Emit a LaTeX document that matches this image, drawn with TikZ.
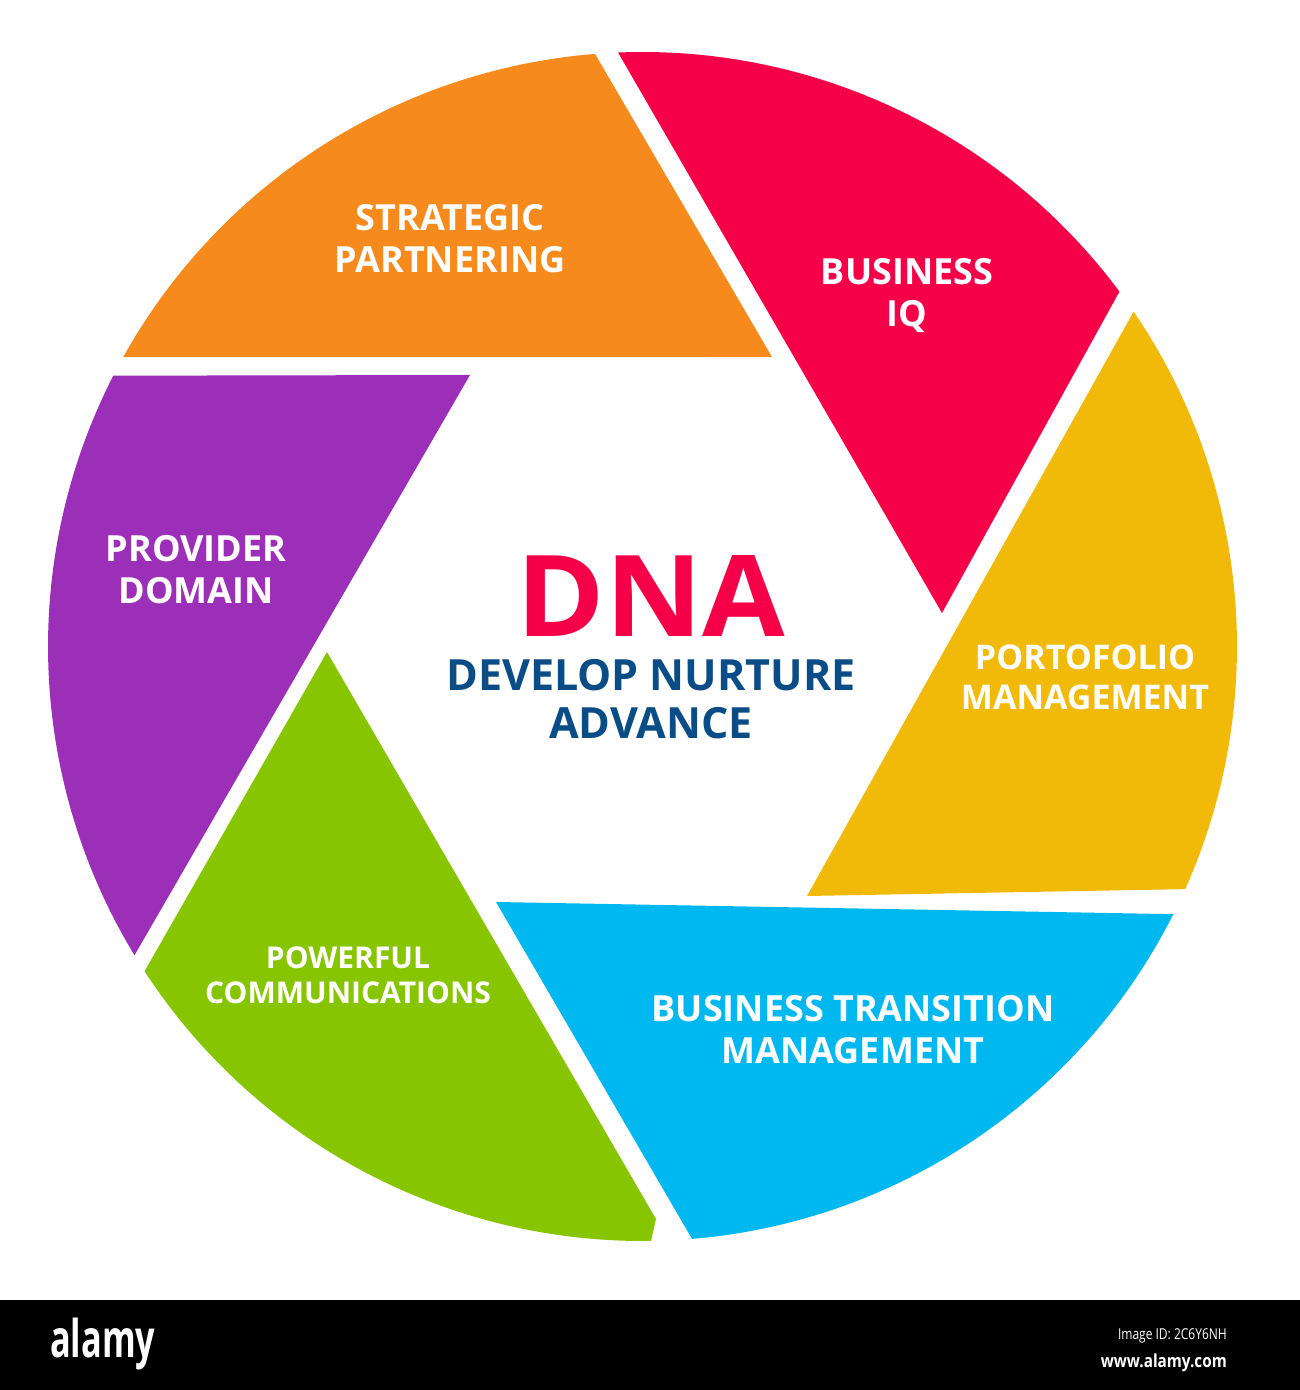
\documentclass[tikz,border=0pt]{standalone}
\usepackage{fontspec}
\setmainfont{Open Sans}
\usetikzlibrary{calc}

\definecolor{orangeblade}{RGB}{247,138,28}
\definecolor{redblade}{RGB}{245,0,72}
\definecolor{yellowblade}{RGB}{242,186,8}
\definecolor{blueblade}{RGB}{0,184,240}
\definecolor{greenblade}{RGB}{135,197,0}
\definecolor{purpleblade}{RGB}{155,47,183}
\definecolor{dnablue}{RGB}{10,76,134}

\tikzset{
	bladetext/.style={text=white, align=center, inner sep=0pt, font=\bfseries\fontsize{36}{42}\selectfont},
	bartext/.style={text=white, inner sep=0pt},
}
\newcommand{\rr}{594.5}

\begin{document}
\begin{tikzpicture}[x=1pt,y=1pt]
		\useasboundingbox (0,0) rectangle (1300,1390);
		\fill[white] (0,0) rectangle (1300,1390);
		\coordinate (c) at (642.5,743.5);
		% the six blades
		\fill[orangeblade] (772,1033) -- ($(c)+(94.58:\rr)$) arc[start angle=94.58, end angle=150.87, radius=\rr] -- cycle;
		\fill[redblade] (942,777) -- ($(c)+(36.65:\rr)$) arc[start angle=36.65, end angle=92.36, radius=\rr] -- cycle;
		\fill[yellowblade] (807,494) -- ($(c)+(-24.09:\rr)$) arc[start angle=-24.09, end angle=34.29, radius=\rr] -- cycle;
		\fill[blueblade] (496,488) -- ($(c)+(-85.22:\rr)$) arc[start angle=-85.22, end angle=-26.76, radius=\rr] -- cycle;
		\fill[greenblade] (327,738) -- ($(c)+(213.11:\rr)$) arc[start angle=213.11, end angle=270.82, radius=\rr] -- (656,171) -- cycle;
		\fill[purpleblade] (470,1015) -- ($(c)+(152.90:\rr)$) arc[start angle=152.90, end angle=211.29, radius=\rr] -- cycle;
		% labels
		\node[bladetext] (strategic) at (450,1151) {STRATEGIC\\PARTNERING};
		\node[bladetext] (business) at (907,1094) {BUSINESS\\IQ};
		\node[bladetext, font=\bfseries\fontsize{34}{40}\selectfont] (portfolio) at (1085,713) {PORTOFOLIO\\MANAGEMENT};
		\node[bladetext] (transition) at (853,360) {BUSINESS TRANSITION\\MANAGEMENT};
		\node[bladetext, font=\bfseries\fontsize{30}{35}\selectfont] (powerful) at (348,415) {POWERFUL\\COMMUNICATIONS};
		\node[bladetext] (provider) at (196,820) {PROVIDER\\DOMAIN};
		\node[text=redblade, inner sep=0pt, text depth=0pt, anchor=base, font=\bfseries\fontsize{113}{113}\selectfont] (dna) at (651,753) {\scalebox{1.06}[1]{DNA}};
		\node[text=dnablue, align=center, inner sep=0pt, font=\bfseries\fontsize{43}{48}\selectfont] (develop) at (651,691) {DEVELOP NURTURE\\ADVANCE};
		% bottom bar
		\fill[black] (0,0) rectangle (1300,90);
		\node[bartext, anchor=base west, font=\bfseries\fontsize{52}{52}\selectfont] (logo) at (50,32) {\scalebox{0.66}[1]{alamy}};
		\node[bartext, anchor=base east, font=\fontsize{15}{15}\selectfont] (imageid) at (1227,50) {\scalebox{0.8}[1]{Image ID: 2C6Y6NH}};
		\node[bartext, anchor=base east, font=\bfseries\fontsize{18}{18}\selectfont] (site) at (1227,23) {\scalebox{0.85}[1]{www.alamy.com}};
	\end{tikzpicture}
\end{document}
